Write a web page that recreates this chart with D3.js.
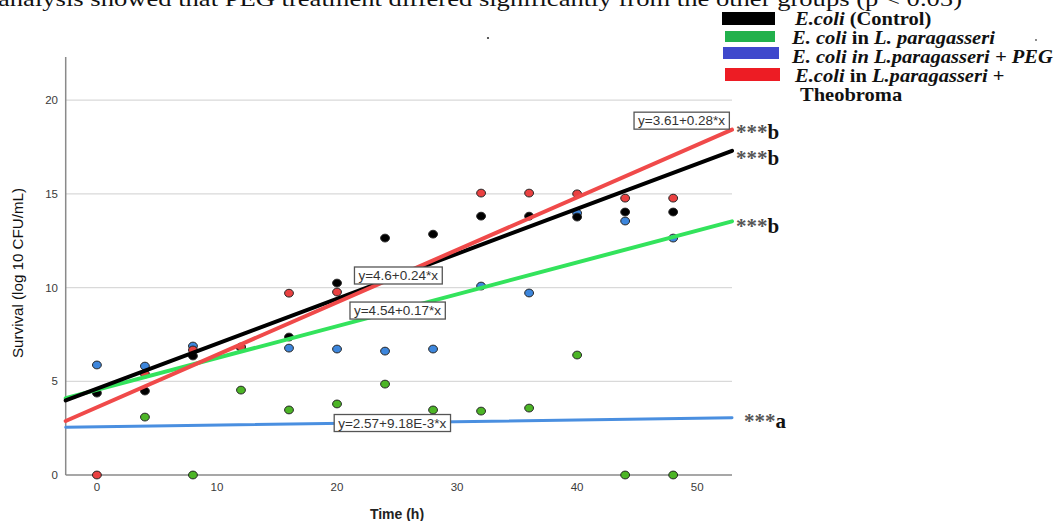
<!DOCTYPE html>
<html>
<head>
<meta charset="utf-8">
<script src="https://cdn.jsdelivr.net/npm/d3@7"></script>
<style>
  html, body { margin: 0; padding: 0; background: #fff; overflow: hidden; }
  svg { display: block; }
  .leg { font-family: "Liberation Serif", "Times New Roman", serif; font-size: 18px; font-weight: bold; fill: #111; }
</style>
</head>
<body>
<div id="chart"></div>
<script>
/* Survival of E. coli over time – scatter with fitted linear regressions */

/* ── Data ─────────────────────────────────────────────────────────────── */
const times = [0, 4, 8, 12, 16, 20, 24, 28, 32, 36, 40, 44, 48];

// survival (log10 CFU/mL), null = point not visible
const control   = [4.37, 4.48, 6.35, 6.8, 7.36, 10.24, 12.64, 12.85, 13.81, 13.81, 13.76, 14.03, 14.03];
const paragass  = [null, 3.09, 0, 4.53, 3.47, 3.79, 4.85, 3.47, 3.41, 3.57, 6.4, 0, 0];
const peg       = [5.87, 5.81, 6.88, 6.8, 6.77, 6.72, 6.61, 6.72, 10.08, 9.71, 13.97, 13.55, 12.64];
const theobroma = [0, 5.39, 6.67, 6.83, 9.7, 9.76, null, null, 15.04, 15.04, 15.0, 14.77, 14.77];

// regression fits y = a + b*x
const seriesNames = ['control', 'paragass', 'peg', 'theobroma'];
const intercepts  = [4.6, 4.54, 2.57, 3.61];
const slopes      = [0.24, 0.17, 9.18e-3, 0.28];
const eqLabels    = ['y=4.6+0.24*x', 'y=4.54+0.17*x', 'y=2.57+9.18E-3*x', 'y=3.61+0.28*x'];
const sigLetters  = ['b', 'b', 'a', 'b'];

const xTicks = [0, 10, 20, 30, 40, 50];
const yTicks = [0, 5, 10, 15, 20];

/* ── Styling ──────────────────────────────────────────────────────────── */
const LINE_COLOR = { control: '#000000', paragass: '#33e35c', peg: '#4a8fe0', theobroma: '#f04a4a' };
const DOT_COLOR  = { control: '#000000', paragass: '#4cb526', peg: '#3d86dc', theobroma: '#ea4141' };
const LINE_W     = { control: 4, paragass: 4, peg: 3, theobroma: 4 };

// equation box anchors in data space (centre of the box)
const eqPos = { control: [25.1, 10.67], paragass: [25.04, 8.8], peg: [24.6, 2.8], theobroma: [48.7, 18.93] };

const W = 1056, H = 521;
const svg = d3.select('#chart').append('svg').attr('width', W).attr('height', H);

const x = d3.scaleLinear().domain([-2.6, 52.9]).range([65.7, 732]);
const y = d3.scaleLinear().domain([0, 22.3]).range([475, 57]);

/* ── Title fragment (cut at top) ──────────────────────────────────────── */
svg.append('text')
  .attr('x', -2).attr('y', 6)
  .attr('font-family', '"Liberation Serif", "Times New Roman", serif')
  .attr('font-size', 22).attr('fill', '#111')
  .attr('textLength', 964).attr('lengthAdjust', 'spacingAndGlyphs')
  .text('analysis showed that PEG treatment differed significantly from the other groups (p < 0.05)');

svg.append('circle').attr('cx', 488).attr('cy', 38).attr('r', 1.1).attr('fill', '#333');

/* ── Grid & axes ──────────────────────────────────────────────────────── */
svg.append('g').selectAll('line')
  .data(yTicks.filter(d => d > 0))
  .join('line')
  .attr('x1', x.range()[0]).attr('x2', x.range()[1])
  .attr('y1', d => y(d)).attr('y2', d => y(d))
  .attr('stroke', '#d9d9d9').attr('stroke-width', 1.2);

svg.append('line')
  .attr('x1', x.range()[0]).attr('x2', x.range()[0])
  .attr('y1', y.range()[1]).attr('y2', y(0))
  .attr('stroke', '#8a8a8a').attr('stroke-width', 1.5);
svg.append('line')
  .attr('x1', x.range()[0]).attr('x2', x.range()[1])
  .attr('y1', y(0)).attr('y2', y(0))
  .attr('stroke', '#8a8a8a').attr('stroke-width', 1.5);

const tickFont = '"Liberation Sans", Arial, sans-serif';
svg.append('g').selectAll('text')
  .data(yTicks).join('text')
  .attr('font-family', tickFont).attr('font-size', 11.5).attr('fill', '#3a3a3a')
  .attr('x', 58).attr('y', d => y(d) + 4)
  .attr('text-anchor', 'end')
  .text(d => d);

svg.append('g').selectAll('text')
  .data(xTicks).join('text')
  .attr('font-family', tickFont).attr('font-size', 11.5).attr('fill', '#3a3a3a')
  .attr('x', d => x(d)).attr('y', 491)
  .attr('text-anchor', 'middle')
  .text(d => d);

svg.append('text')
  .attr('transform', 'translate(23,273) rotate(-90)')
  .attr('text-anchor', 'middle')
  .attr('font-family', tickFont)
  .attr('font-size', 14).attr('fill', '#111')
  .attr('textLength', 170).attr('lengthAdjust', 'spacingAndGlyphs')
  .text('Survival (log 10 CFU/mL)');

svg.append('text')
  .attr('x', 397).attr('y', 519)
  .attr('text-anchor', 'middle')
  .attr('font-family', tickFont)
  .attr('font-size', 14).attr('font-weight', 'bold').attr('fill', '#222')
  .text('Time (h)');

/* ── Points ───────────────────────────────────────────────────────────── */
const values = { control, paragass, peg, theobroma };
const drawOrder = ['paragass', 'peg', 'control', 'theobroma'];
const pts = drawOrder.flatMap(k => values[k]
  .map((v, i) => ({ key: k, t: times[i], v }))
  .filter(d => d.v !== null));

svg.append('g').selectAll('ellipse')
  .data(pts).join('ellipse')
  .attr('cx', d => x(d.t)).attr('cy', d => y(d.v))
  .attr('rx', 4.4).attr('ry', 3.9)
  .attr('fill', d => DOT_COLOR[d.key])
  .attr('stroke', '#222').attr('stroke-width', 1);

/* ── Regression lines ─────────────────────────────────────────────────── */
const lineOrder = ['peg', 'paragass', 'control', 'theobroma'];
const [x0, x1] = x.domain();
svg.append('g').selectAll('line')
  .data(lineOrder).join('line')
  .attr('x1', x(x0)).attr('x2', x(x1))
  .attr('y1', k => { const i = seriesNames.indexOf(k); return y(intercepts[i] + slopes[i] * x0); })
  .attr('y2', k => { const i = seriesNames.indexOf(k); return y(intercepts[i] + slopes[i] * x1); })
  .attr('stroke', k => LINE_COLOR[k])
  .attr('stroke-width', k => LINE_W[k])
  .attr('stroke-linecap', 'round');

/* ── Equation boxes ───────────────────────────────────────────────────── */
seriesNames.forEach((k, i) => {
  const g = svg.append('g');
  const t = g.append('text')
    .attr('x', x(eqPos[k][0])).attr('y', y(eqPos[k][1]) + 5)
    .attr('text-anchor', 'middle')
    .attr('font-family', tickFont).attr('font-size', 13.5).attr('fill', '#333')
    .text(eqLabels[i]);
  const bb = t.node().getBBox();
  g.insert('rect', 'text')
    .attr('x', bb.x - 4).attr('y', bb.y - 1)
    .attr('width', bb.width + 8).attr('height', bb.height + 2)
    .attr('fill', '#fff').attr('stroke', '#555').attr('stroke-width', 1.3);
});

/* ── Significance marks ───────────────────────────────────────────────── */
const sigOffset = { control: 6, paragass: 4, peg: 2, theobroma: 1 };
seriesNames.forEach((k, i) => {
  const yy = y(intercepts[i] + slopes[i] * x1) + sigOffset[k];
  const t = svg.append('text')
    .attr('x', k === 'peg' ? 744 : 736).attr('y', yy + 8)
    .attr('font-family', '"Liberation Serif", "Times New Roman", serif')
    .attr('font-weight', 'bold');
  t.append('tspan').attr('font-size', 21).attr('fill', '#555').text('***');
  t.append('tspan').attr('font-size', 21).attr('fill', '#111').text(sigLetters[i]);
});

/* ── Legend ───────────────────────────────────────────────────────────── */
const legendSw = [
  { c: '#000000', x: 722, y: 12, w: 53, h: 13 },
  { c: '#22b14c', x: 725, y: 31, w: 50, h: 11 },
  { c: '#3f48cc', x: 723, y: 47, w: 56, h: 12 },
  { c: '#ed1c24', x: 725, y: 68, w: 55, h: 13 }
];
svg.append('g').selectAll('rect')
  .data(legendSw).join('rect')
  .attr('x', d => d.x).attr('y', d => d.y)
  .attr('width', d => d.w).attr('height', d => d.h)
  .attr('fill', d => d.c);

const legRows = [
  { x: 795, y: 25, parts: [['E.coli', true], [' (Control)', false]] },
  { x: 792, y: 44, parts: [['E. coli', true], [' in ', false], ['L. paragasseri', true]] },
  { x: 792, y: 63, parts: [['E. coli in L.paragasseri + PEG', true]] },
  { x: 795, y: 82, parts: [['E.coli', true], [' in ', false], ['L.paragasseri', true], [' +', false]] },
  { x: 800, y: 101, parts: [['Theobroma', false]] }
];
legRows.forEach(r => {
  const t = svg.append('text').attr('class', 'leg')
    .attr('transform', `translate(${r.x},${r.y}) scale(1.14,1)`);
  r.parts.forEach(p => t.append('tspan')
    .attr('font-style', p[1] ? 'italic' : 'normal')
    .style('white-space', 'pre')
    .text(p[0]));
});
svg.append('circle').attr('cx', 1036).attr('cy', 40).attr('r', 0.9).attr('fill', '#555');
</script>
</body>
</html>
